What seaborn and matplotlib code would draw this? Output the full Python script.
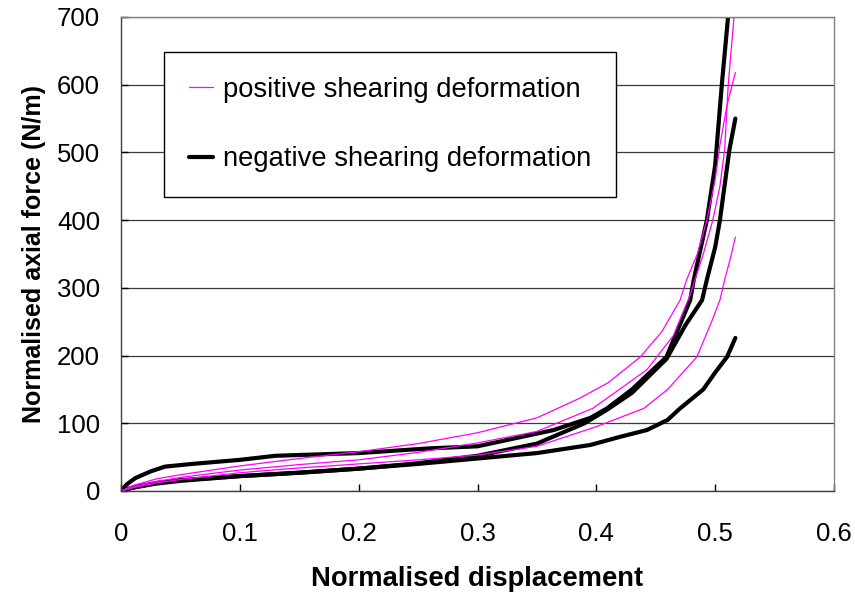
import seaborn as sns
import matplotlib.pyplot as plt
import matplotlib.lines as mlines
import pandas as pd

# positive shearing deformation (magenta, thin)
pos1_x = [0, 0.01, 0.03, 0.05, 0.1, 0.15, 0.2, 0.25, 0.3, 0.35, 0.386, 0.41, 0.437, 0.455, 0.4705, 0.476, 0.485, 0.493, 0.5, 0.504, 0.51, 0.517]
pos1_y = [0, 8, 18, 24, 37, 48, 58, 70, 86, 108, 137, 160, 198, 235, 282, 312, 350, 400, 460, 511, 570, 618]
pos2_x = [0, 0.01, 0.03, 0.05, 0.1, 0.15, 0.2, 0.25, 0.3, 0.35, 0.397, 0.4425, 0.465, 0.479, 0.49, 0.498, 0.504, 0.508, 0.511, 0.516]
pos2_y = [0, 6, 14, 20, 31, 39, 46, 57, 71, 88, 122, 179, 230, 290, 350, 400, 450, 504, 600, 703]
pos3_x = [0, 0.01, 0.03, 0.05, 0.1, 0.15, 0.2, 0.25, 0.3, 0.35, 0.4, 0.44, 0.46, 0.4846, 0.497, 0.504, 0.508, 0.513, 0.517]
pos3_y = [0, 5, 12, 17, 27, 34, 40, 46, 53, 66, 95, 122, 150, 198, 250, 282, 312, 345, 375]

# negative shearing deformation (black, thick)
neg1_x = [0, 0.005, 0.012, 0.025, 0.037, 0.06, 0.1, 0.13, 0.2, 0.26, 0.3, 0.364, 0.395, 0.409, 0.43, 0.459, 0.479, 0.482, 0.493, 0.5, 0.5056, 0.511]
neg1_y = [0, 10, 19, 29, 36, 40, 46, 52, 56, 63, 66, 90, 108, 122, 150, 198, 282, 312, 400, 481, 600, 703]
neg2_x = [0, 0.01, 0.03, 0.05, 0.1, 0.15, 0.2, 0.25, 0.3, 0.35, 0.39, 0.409, 0.43, 0.459, 0.475, 0.489, 0.493, 0.5, 0.504, 0.512, 0.517]
neg2_y = [0, 5, 12, 16, 22, 27, 33, 41, 52, 70, 100, 120, 145, 195, 245, 282, 312, 360, 400, 504, 550]
neg3_x = [0, 0.01, 0.03, 0.05, 0.1, 0.15, 0.2, 0.25, 0.3, 0.35, 0.395, 0.42, 0.4425, 0.46, 0.4705, 0.49, 0.5, 0.51, 0.517]
neg3_y = [0, 5, 11, 15, 22, 27, 33, 40, 48, 56, 68, 80, 90, 105, 122, 150, 175, 198, 226]

pos_curves = [(pos1_x, pos1_y), (pos2_x, pos2_y), (pos3_x, pos3_y)]
neg_curves = [(neg1_x, neg1_y), (neg2_x, neg2_y), (neg3_x, neg3_y)]

sns.set_style('white')
plt.rcParams['font.family'] = ['Liberation Sans', 'DejaVu Sans']

fig = plt.figure(figsize=(8.55, 5.94), dpi=100)
ax = fig.add_axes([121 / 855, 103 / 594, 713 / 855, 474 / 594])

for cx, cy in neg_curves:
    df = pd.DataFrame({'x': cx, 'y': cy})
    sns.lineplot(data=df, x='x', y='y', ax=ax, color='black', lw=3.0,
                 sort=False, estimator=None)
for cx, cy in pos_curves:
    df = pd.DataFrame({'x': cx, 'y': cy})
    sns.lineplot(data=df, x='x', y='y', ax=ax, color='#ff00ff', lw=0.9,
                 sort=False, estimator=None)

ax.set_xlim(0, 0.6)
ax.set_ylim(0, 700)
ax.set_xticks([0, 0.1, 0.2, 0.3, 0.4, 0.5, 0.6])
ax.set_xticklabels(['0', '0.1', '0.2', '0.3', '0.4', '0.5', '0.6'])
ax.set_yticks(range(0, 701, 100))
ax.yaxis.grid(True, color='#3a3a3a', lw=0.9)
ax.set_axisbelow(True)
ax.tick_params(direction='in', length=5, width=1, color='black',
               labelsize=18.5, labelcolor='black', bottom=True, left=True)
ax.tick_params(axis='x', pad=22)
ax.tick_params(axis='y', pad=15)

for side in ['top', 'right']:
    ax.spines[side].set_color('#808080')
for side in ['left', 'bottom']:
    ax.spines[side].set_color('#404040')
for s in ax.spines.values():
    s.set_linewidth(1.0)

ax.set_xlabel('Normalised displacement', fontsize=19.7, fontweight='bold',
              color='black', labelpad=15)
ax.set_ylabel('Normalised axial force (N/m)', fontsize=18, fontweight='bold',
              color='black', labelpad=8)

handles = [
    mlines.Line2D([], [], color='#ff00ff', lw=0.9, label='positive shearing deformation'),
    mlines.Line2D([], [], color='black', lw=3.0, label='negative shearing deformation'),
]
leg = ax.legend(handles=handles, loc='upper left', bbox_to_anchor=(0.0603, 0.926),
                borderaxespad=0, fontsize=19.7, frameon=True, fancybox=False,
                edgecolor='black', framealpha=1, handlelength=0.9,
                handletextpad=0.35, labelspacing=1.6, borderpad=0.9)
leg.get_frame().set_linewidth(1.0)
for t in leg.get_texts():
    t.set_color('black')

fig.savefig('out.png', dpi=100)
